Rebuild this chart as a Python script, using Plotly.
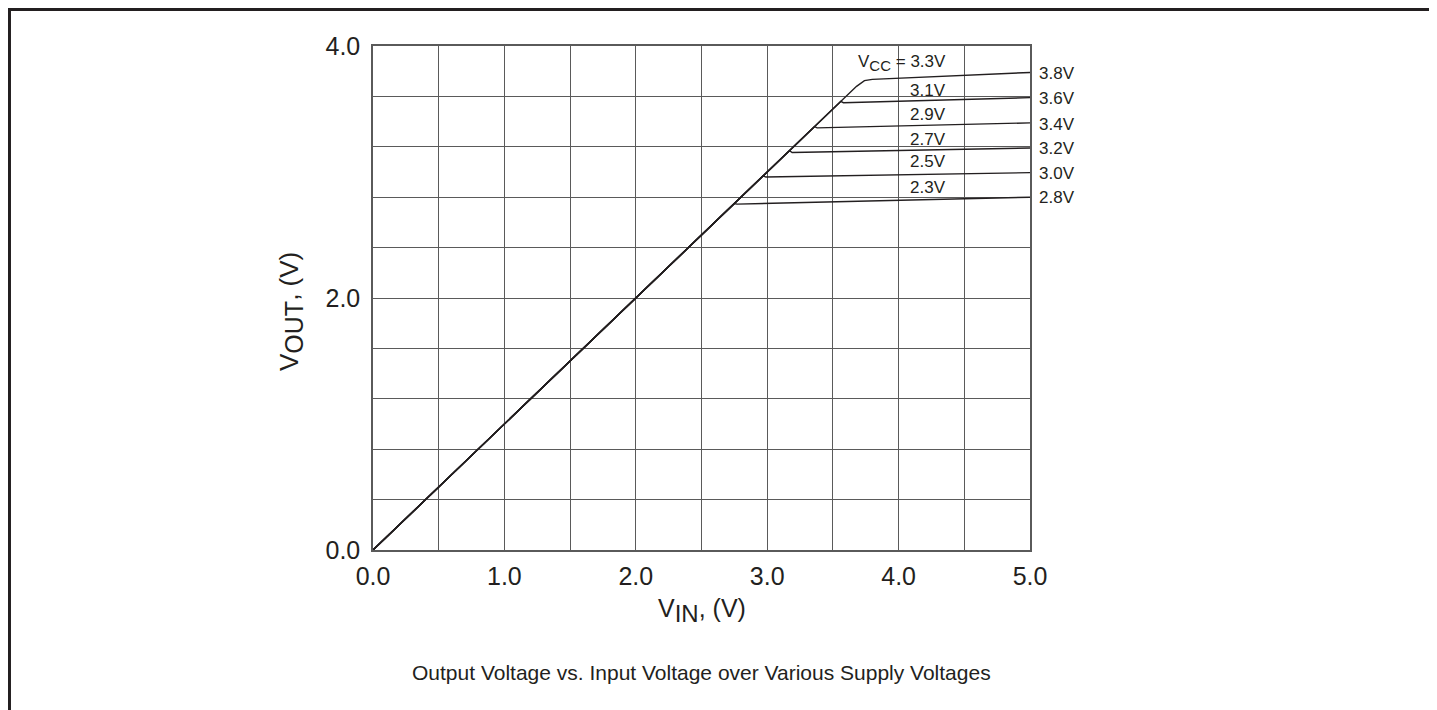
import plotly.graph_objects as go

# Data
curve_labels = ["3.8V", "3.6V", "3.4V", "3.2V", "3.0V", "2.8V"]
vcc_labels = ["VCC = 3.3V", "3.1V", "2.9V", "2.7V", "2.5V", "2.3V"]
vin_3v8 = [0.0, 3.68, 3.74, 3.80, 5.0]
vout_3v8 = [0.0, 3.68, 3.725, 3.735, 3.79]
vin_3v6 = [0.0, 3.56, 3.58, 5.0]
vout_3v6 = [0.0, 3.56, 3.55, 3.59]
vin_3v4 = [0.0, 3.36, 3.38, 5.0]
vout_3v4 = [0.0, 3.36, 3.35, 3.39]
vin_3v2 = [0.0, 3.17, 3.19, 5.0]
vout_3v2 = [0.0, 3.17, 3.155, 3.19]
vin_3v0 = [0.0, 2.97, 2.99, 5.0]
vout_3v0 = [0.0, 2.97, 2.96, 2.995]
vin_2v8 = [0.0, 2.75, 2.77, 5.0]
vout_2v8 = [0.0, 2.75, 2.745, 2.80]

x_ticks = [0, 1, 2, 3, 4, 5]
x_ticktext = ["0.0", "1.0", "2.0", "3.0", "4.0", "5.0"]
y_ticks = [0, 2, 4]
y_ticktext = ["0.0", "2.0", "4.0"]

# label positions
vcc_label_x = [4.376] * 6
vcc_label_y = [3.865, 3.65, 3.46, 3.26, 3.08, 2.88]
end_label_x = [1.0107] * 6  # paper fraction, just right of the plot
end_label_y = [3.78, 3.58, 3.375, 3.19, 2.985, 2.80]

FONT = "Liberation Sans, Arial, Helvetica, sans-serif"
INK = "#231f20"
GRID = "#5a5a5a"

series = [
    (vin_3v8, vout_3v8), (vin_3v6, vout_3v6), (vin_3v4, vout_3v4),
    (vin_3v2, vout_3v2), (vin_3v0, vout_3v0), (vin_2v8, vout_2v8),
]

fig = go.Figure()
for (xs, ys), name in zip(series, curve_labels):
    fig.add_trace(go.Scatter(x=xs, y=ys, mode="lines", name=name,
                             line=dict(color=INK, width=1.4), showlegend=False,
                             hoverinfo="skip"))

annotations = []
for i, (lx, ly, t) in enumerate(zip(vcc_label_x, vcc_label_y, vcc_labels)):
    txt = "V<sub><span style='font-size:15px'>CC</span></sub> = 3.3V" if i == 0 else t
    annotations.append(dict(x=lx, y=ly, text=txt, showarrow=False, xanchor="right",
                            yanchor="middle", font=dict(family=FONT, size=17, color=INK)))
for lx, ly, t in zip(end_label_x, end_label_y, curve_labels):
    annotations.append(dict(x=lx, y=ly, xref="paper", yref="y", text=t, showarrow=False,
                            xanchor="left", yanchor="middle",
                            font=dict(family=FONT, size=17, color=INK)))

# axis titles and caption
annotations.append(dict(x=0.5, y=-0.12, xref="paper", yref="paper",
                        text="V<sub><span style='font-size:24px'>IN</span></sub>, (V)",
                        showarrow=False, xanchor="center", yanchor="middle",
                        font=dict(family=FONT, size=25, color=INK)))
annotations.append(dict(x=-0.125, y=0.474, xref="paper", yref="paper",
                        text="V<sub><span style='font-size:25px'>OUT</span></sub>, (V)",
                        showarrow=False, textangle=-90,
                        xanchor="center", yanchor="middle",
                        font=dict(family=FONT, size=26, color=INK)))
annotations.append(dict(x=0.5, y=-0.243, xref="paper", yref="paper",
                        text="Output Voltage vs. Input Voltage over Various Supply Voltages",
                        showarrow=False, xanchor="center", yanchor="middle",
                        font=dict(family=FONT, size=21, color=INK)))

fig.update_layout(
    width=1437, height=710,
    margin=dict(l=365, r=415, t=38, b=168),
    paper_bgcolor="white", plot_bgcolor="white",
    annotations=annotations,
    xaxis=dict(range=[0, 5], tickvals=x_ticks, ticktext=x_ticktext,
               showgrid=True, gridcolor=GRID, gridwidth=1,
               minor=dict(dtick=0.5, showgrid=True, gridcolor=GRID, gridwidth=1),
               showline=True, linecolor=GRID, linewidth=1.5, mirror=True,
               zeroline=False, ticks="", ticklabelstandoff=3,
               tickfont=dict(family=FONT, size=25, color=INK)),
    yaxis=dict(range=[0, 4], tickvals=y_ticks, ticktext=y_ticktext,
               showgrid=True, gridcolor=GRID, gridwidth=1,
               minor=dict(dtick=0.4, showgrid=True, gridcolor=GRID, gridwidth=1),
               showline=True, linecolor=GRID, linewidth=1.5, mirror=True,
               zeroline=False, ticks="", ticklabelstandoff=6,
               tickfont=dict(family=FONT, size=25, color=INK)),
    shapes=[dict(type="rect", xref="paper", yref="paper",
                 x0=-0.5533, x1=1.6104, y0=-0.36, y1=1.0724,
                 line=dict(color=INK, width=3))],
)

fig.write_html("out.html")
